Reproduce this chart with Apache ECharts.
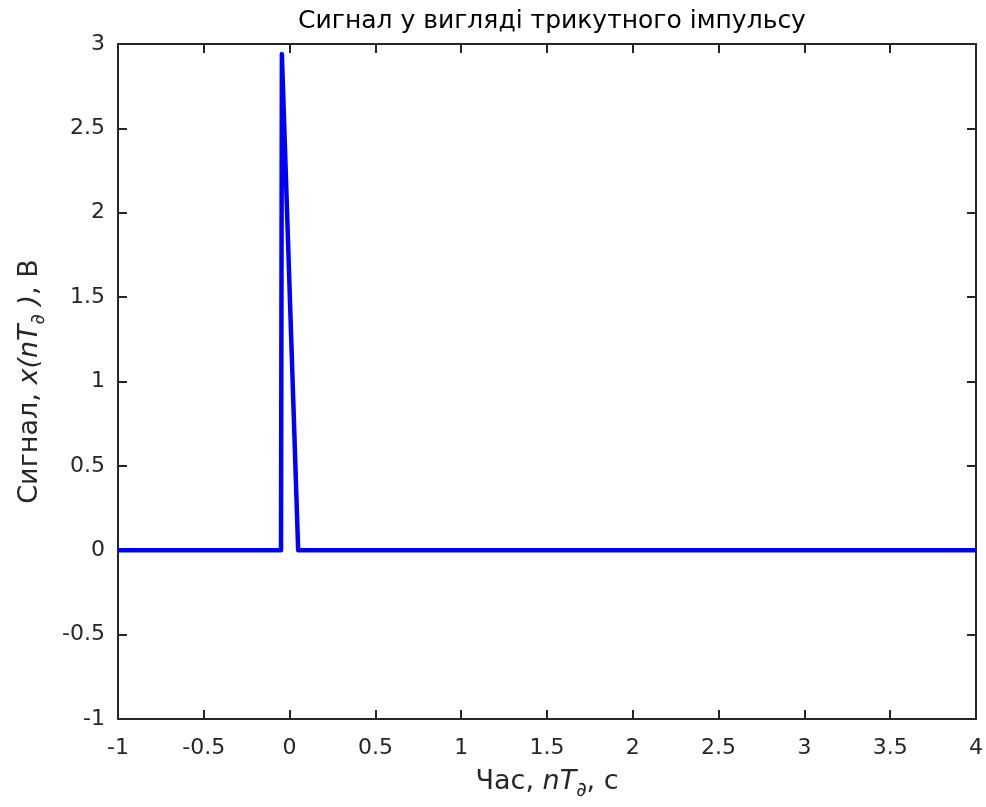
<!DOCTYPE html>
<html>
<head>
<meta charset="utf-8">
<script src="https://cdn.jsdelivr.net/npm/echarts@6/dist/echarts.min.js"></script>
<style>
  html, body { margin: 0; padding: 0; background: #fff; }
  #main { width: 986px; height: 807px; }
</style>
</head>
<body>
<div id="main"></div>
<script>
// сигнал у вигляді трикутного імпульсу
var timeValues = [-1, -0.05, -0.045, 0.05, 4];
var signalValues = [0, 0, 2.94, 0, 0];
var xTicks = [-1, 4, 0.5];
var yTicks = [-1, 3, 0.5];

var seriesData = timeValues.map(function (t, i) { return [t, signalValues[i]]; });

var axisColor = '#262626';
var font = 'DejaVu Sans, Liberation Sans, sans-serif';

function frameAxis(range, pos, showLabel, margin, extra) {
    var a = {
        type: 'value',
        position: pos,
        min: range[0],
        max: range[1],
        interval: range[2],
        splitLine: { show: false },
        axisLine: { show: true, onZero: false, lineStyle: { color: axisColor, width: 2 } },
        axisTick: { show: true, inside: true, length: 9, lineStyle: { color: axisColor, width: 2 } },
        axisLabel: {
            show: showLabel,
            color: axisColor,
            fontFamily: font,
            fontSize: 22,
            margin: margin,
            formatter: function (v) { return String(v); }
        }
    };
    for (var k in extra) a[k] = extra[k];
    return a;
}

var nameRich = {
    n: { fontFamily: font, fontSize: 27, color: axisColor },
    i: { fontFamily: font, fontSize: 27, fontStyle: 'italic', color: axisColor },
    s: { fontFamily: font, fontSize: 20, fontStyle: 'italic', color: axisColor, padding: [18, 0, 0, 0] }
};

var myChart = echarts.init(document.getElementById('main'));

var option = {
    backgroundColor: '#fff',
    animation: false,
    title: {
        text: 'Сигнал у вигляді трикутного імпульсу',
        left: 547,
        top: 4,
        textAlign: 'center',
        textStyle: { color: '#000', fontFamily: font, fontSize: 25, fontWeight: 'normal' }
    },
    grid: { left: 118, right: 10, top: 44, bottom: 88 },
    xAxis: [
        frameAxis(xTicks, 'bottom', true, 18, {
            name: '{n|Час, }{i|nT}{s|∂}{n|, с}',
            nameLocation: 'middle',
            nameGap: 44,
            nameTextStyle: { color: axisColor, rich: nameRich }
        }),
        frameAxis(xTicks, 'top', false, 8, {})
    ],
    yAxis: [
        frameAxis(yTicks, 'left', true, 13, {
            name: '{n|Сигнал, }{i|x(nT}{s|∂}{i| )}{n|, В}',
            nameLocation: 'middle',
            nameGap: 69,
            nameRotate: 90,
            nameTextStyle: { color: axisColor, rich: nameRich }
        }),
        frameAxis(yTicks, 'right', false, 8, {})
    ],
    series: [{
        type: 'line',
        xAxisIndex: 0,
        yAxisIndex: 0,
        data: seriesData,
        showSymbol: false,
        symbol: 'none',
        lineStyle: { color: '#0000ff', width: 4.5, join: 'round' }
    }]
};

myChart.setOption(option);
</script>
</body>
</html>
